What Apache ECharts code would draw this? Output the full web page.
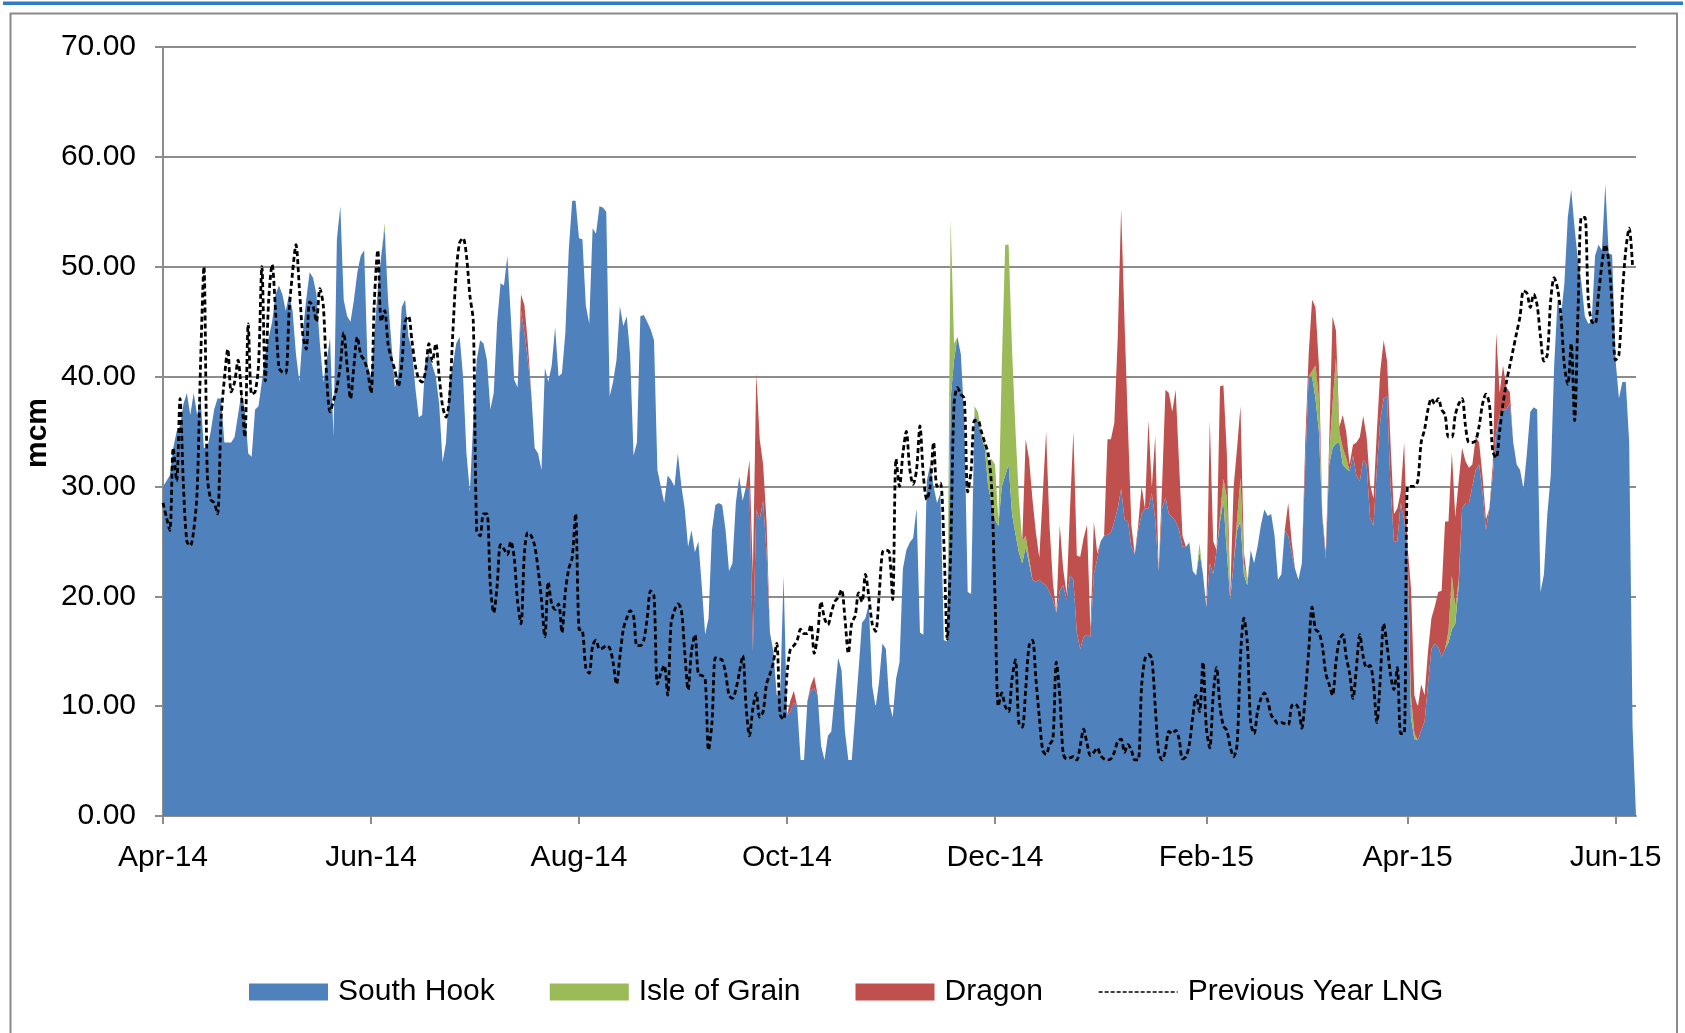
<!DOCTYPE html>
<html>
<head>
<meta charset="utf-8">
<title>LNG send-out by terminal</title>
<script src="https://cdn.jsdelivr.net/npm/echarts@6.0.0/dist/echarts.min.js"></script>
<style>
  html, body { margin: 0; padding: 0; background: #fff; }
  #chart { width: 1685px; height: 1033px; }
</style>
</head>
<body>
<div id="chart"></div>
<script>
  // daily values from 1 Apr 2014 (index 0) to 7 Jun 2015 (index 432), mcm
  const startDay = [2014, 3, 1]
  const tickLabels = ['Apr-14', 'Jun-14', 'Aug-14', 'Oct-14', 'Dec-14', 'Feb-15', 'Apr-15', 'Jun-15']
  const monthNames = ['Jan', 'Feb', 'Mar', 'Apr', 'May', 'Jun', 'Jul', 'Aug', 'Sep', 'Oct', 'Nov', 'Dec']

  const southHook = [
    30, 30.5, 31, 33.5, 35, 35.5, 37.5, 38.5, 36.5, 38.5,
    36.5, 38, 33.5, 33.5, 35, 37, 38, 38, 34, 34,
    34, 34.5, 36.5, 38.5, 37, 33, 32.7, 37, 37.3, 39.5,
    42, 43.5, 45, 47.5, 48.3, 47.5, 46, 47.5, 46, 42,
    39.5, 44, 47, 49.5, 49, 47.5, 43, 39.5, 41.5, 43.5,
    34.5, 52.5, 55.5, 47, 45.5, 45, 47, 49.5, 51, 51.5,
    41, 40, 44, 48, 51, 53.5, 47, 43, 39, 40,
    46.3, 47, 43.6, 42.5, 39, 36.3, 36.5, 41.7, 42, 41,
    40, 37.5, 32.2, 34, 39.5, 41, 43, 43.6, 40, 33,
    29.5, 36, 41.5, 43.3, 43, 41.5, 37, 38.5, 45, 48.5,
    48.3, 51, 45.5, 39.7, 39, 46, 44, 41.5, 38.5, 33.5,
    33, 31.5, 40.8, 39.5, 41, 44.5, 40, 40.3, 44, 51.5,
    56, 56, 52.6, 52.5, 46.5, 44.8, 53.5, 53, 55.5, 55.4,
    55, 38.2, 39.5, 41.5, 46.4, 44.6, 45.5, 42, 32.8, 34,
    45.5, 45.6, 45, 44.3, 43.3, 31.5, 30, 28.5, 31, 30.6,
    30, 33, 30.1, 28, 24.5, 26, 24, 25, 21, 16.5,
    18, 26, 28.3, 28.5, 28.3, 26, 22.3, 23, 28.5, 30.9,
    28.7, 30, 29.8, 15, 27.9, 27, 28.7, 24, 16.7, 15,
    11, 11, 21.9, 9.2, 9.5, 10.3, 10, 5.1, 5.1, 10.5,
    11.4, 11.6, 11, 6.4, 5.1, 7.3, 7.7, 11, 14.4, 13.3,
    7.7, 5.1, 5.1, 9.2, 13.3, 17.6, 18, 19.3, 11.8, 9.9,
    12.2, 15.7, 15.2, 10.3, 9, 12.5, 14, 22.5, 24.2, 24.9,
    25.3, 28, 16.7, 16.5, 30.5, 32, 30, 28.5, 29.4, 16,
    15.9, 38, 41.5, 43.6, 42, 36, 20.4, 20.2, 36.5, 36,
    34.5, 33.5, 30, 28.5, 27, 26.4, 30, 31, 32, 27.5,
    25.7, 24, 23, 24.5, 23, 21.5, 21.3, 21.5, 21.2, 21,
    20.4, 19.7, 18.5, 20.5, 21, 19.7, 21.9, 21.5, 16.7, 15.2,
    16.3, 16.5, 16.3, 22, 23.4, 25, 25.5, 25.6, 25.8, 26.8,
    28, 29.8, 27, 26.8, 24.5, 23.8, 26, 27.5, 28, 28,
    29.4, 27, 22.3, 28, 29, 27.5, 27.2, 26.8, 26, 24.5,
    24.5, 24.9, 22.3, 21.9, 24, 22, 19, 23, 22, 24.2,
    26.8, 28.7, 24, 19.7, 23, 26, 26.8, 22, 21, 24.2,
    23, 24.5, 26.5, 27.9, 27.3, 27.5, 25.5, 21.5, 22, 26,
    25.5, 24, 22.5, 21.5, 23, 32, 40, 40, 38, 35,
    27.2, 23.4, 32, 33.5, 33.9, 34, 32, 31.6, 31.4, 32.8,
    31, 30.5, 32.4, 32, 27.2, 26.4, 31.6, 36, 38, 38.2,
    30, 25, 25, 28.5, 27, 24.5, 9, 7, 6.9, 7.8,
    8.6, 12, 15.2, 15.7, 15.4, 14.5, 15.2, 15.8, 17, 17.5,
    21, 28, 28.5, 28.5, 30, 31.5, 32, 29.4, 26, 28,
    31, 35, 36.5, 37, 37, 37.6, 34, 32, 31.5, 29.8,
    33, 36.8, 37.2, 37, 20.4, 22, 27.5, 31, 41, 47,
    45.5, 48.5, 54.5, 57, 53.5, 50.5, 48.5, 45.5, 44.8, 45,
    51, 52, 51.5, 57.5, 51.2, 51.1, 41.5, 38, 39.5, 39.5,
    34, 8, 0
  ]

  const isleOfGrain = [
    0, 0, 0, 0, 0, 0, 0, 0, 0, 0,
    0, 0, 0, 0, 0, 0, 0, 0, 0, 0,
    0, 0, 0, 0, 0, 0, 0, 0, 0, 0,
    0, 0, 0, 0, 0, 0, 0, 0, 0, 0,
    0, 0, 0, 0, 0, 0, 0, 0, 0, 0,
    0, 0, 0, 0, 0, 0, 0, 0, 0, 0,
    0, 0, 0, 0, 0, 0.5, 0, 0, 0, 0,
    0, 0, 0, 0, 0, 0, 0, 0, 0, 0,
    0, 0, 0, 0, 0, 0, 0, 0, 0, 0,
    0, 0, 0, 0, 0, 0, 0, 0, 0, 0,
    0, 0, 0, 0, 0, 0, 0, 0, 0, 0,
    0, 0, 0, 0, 0, 0, 0, 0, 0, 0,
    0, 0, 0, 0, 0, 0, 0, 0, 0, 0,
    0, 0, 0, 0, 0, 0, 0, 0, 0, 0,
    0, 0, 0, 0, 0, 0, 0, 0, 0, 0,
    0, 0, 0, 0, 0, 0, 0, 0, 0, 0,
    0, 0, 0, 0, 0, 0, 0, 0, 0, 0,
    0, 0, 0, 0, 0, 0, 0, 0, 0, 0,
    0, 0, 0, 0, 0, 0, 0, 0, 0, 0,
    0, 0, 0, 0, 0, 0, 0, 0, 0, 0,
    0, 0, 0, 0, 0, 0, 0, 0, 0, 0,
    0, 0, 0, 0, 0, 0, 0, 0, 0, 0,
    0, 0, 0, 0, 0, 0, 0, 0, 0, 0,
    0, 16.3, 1.5, 0, 0, 0, 0, 0, 0.8, 0.8,
    0.5, 0.5, 2.4, 4, 5, 0.5, 11, 21, 20, 15,
    9.5, 5, 2, 1, 0.5, 0, 0, 0, 0, 0,
    0, 0, 0, 0, 0, 0, 0, 0, 0, 0,
    0, 0, 0, 0, 0, 0, 0, 0, 0, 0,
    0, 0, 0, 0, 0, 0, 0, 0, 0, 0,
    0, 0, 0, 0, 0, 0, 0, 0, 0, 0,
    0, 0, 0, 0, 0.8, 0, 0, 0, 0, 0,
    0.5, 2, 5, 0.2, 0, 1, 4, 1, 0.5, 0,
    0, 0, 0, 0, 0, 0, 0, 0, 0, 0,
    0, 0, 0, 0, 0, 0, 0, 0.5, 3, 3,
    0, 0, 0.8, 4, 7.8, 1, 1.5, 1, 0, 0,
    0, 0, 0, 0, 0, 0, 0, 0, 0, 0,
    0, 0, 0, 0, 0, 0, 2, 0.5, 0, 0,
    0, 0, 0, 0, 0, 0, 0, 1, 4.9, 1.5,
    0.5, 0, 0, 0, 0, 0, 0, 0, 0, 0,
    0, 0, 0, 0, 0, 0, 0, 0, 0, 0,
    0, 0, 0, 0, 0, 0, 0, 0, 0, 0,
    0, 0, 0, 0, 0, 0, 0, 0, 0, 0,
    0, 0, 0, 0, 0, 0, 0, 0, 0, 0,
    0, 0, 0
  ]

  const dragon = [
    0, 0, 0, 0, 0, 0, 0, 0, 0, 0,
    0, 0, 0, 0, 0, 0, 0, 0, 0, 0,
    0, 0, 0, 0, 0, 0, 0, 0, 0, 0,
    0, 0, 0, 0, 0, 0, 0, 0, 0, 0,
    0, 0, 0, 0, 0, 0, 0, 0, 0, 0,
    0, 0, 0, 0, 0, 0, 0, 0, 0, 0,
    0, 0, 0, 0, 0, 0, 0, 0, 0, 0,
    0, 0, 0, 0, 0, 0, 0, 0, 0, 0,
    0, 0, 0, 0, 0, 0, 0, 0, 0, 0,
    0, 0, 0, 0, 0, 0, 0, 0, 0, 0,
    0, 0, 0, 0, 0, 1.5, 2.5, 1.5, 0, 0,
    0, 0, 0, 0, 0, 0, 0, 0, 0, 0,
    0, 0, 0, 0, 0, 0, 0, 0, 0, 0,
    0, 0, 0, 0, 0, 0, 0, 0, 0, 0,
    0, 0, 0, 0, 0, 0, 0, 0, 0, 0,
    0, 0, 0, 0, 0, 0, 0, 0, 0, 0,
    0, 0, 0, 0, 0, 0, 0, 0, 0, 0,
    0, 0, 2.6, 7, 12.4, 7.3, 3.3, 2.8, 0, 0,
    0, 0, 0, 0, 1, 1.1, 0, 0, 0, 0,
    0.5, 1.1, 0, 0, 0, 0, 0, 0, 0, 0,
    0, 0, 0, 0, 0, 0, 0, 0, 0, 0,
    0, 0, 0, 0, 0, 0, 0, 0, 0, 0,
    0, 0, 0, 0, 0, 0, 0, 0, 0, 0,
    0, 0, 0, 0, 0, 0, 0, 0, 0, 0,
    0, 0, 0, 0, 0, 0, 0, 0, 0, 0,
    0, 0, 0, 8.8, 9, 7.3, 4.5, 2, 8, 14,
    6, 1.5, 0, 6, 1.5, 0.5, 6, 13.5, 7, 8.4,
    9, 10, 0.5, 4.8, 0.5, 0, 0, 8.7, 8.5, 9,
    15.5, 25.5, 18, 8.6, 2, 0, 0.5, 2.5, 0, 8,
    0.5, 7.6, 0, 2, 9.8, 11, 9.6, 12, 6, 1,
    0, 0, 0, 0, 0, 0, 0, 13, 3, 0,
    11.8, 8.5, 4, 0.3, 7, 6.5, 6.5, 1, 0, 0,
    0, 0, 0, 0, 0, 0, 0, 0, 0, 0,
    3, 1, 0, 0, 0, 2, 2, 6.5, 5.3, 3,
    0.3, 0.5, 1, 8, 2.5, 0.4, 3, 2.4, 0.6, 1,
    3, 4, 4, 2.5, 3, 2.5, 3.4, 4.5, 5.3, 3.2,
    4, 2.5, 3, 1, 7, 0, 9.8, 3.5, 3, 4.2,
    2.4, 3, 2.8, 3.4, 5, 6, 11.6, 10, 11.2, 8.2,
    9, 5.5, 3.8, 3.2, 2, 3, 2, 1.5, 1, 0,
    1, 9, 2, 4, 2, 1, 0, 0, 0, 0,
    0, 0, 0, 0, 0, 0, 0, 0, 0, 0,
    0, 0, 0, 0, 0, 0, 0, 0, 0, 0,
    0, 0, 0, 0, 0, 0, 0, 0, 0, 0,
    0, 0, 0
  ]

  const previousYear = [
    28.5, 27.2, 26, 33.5, 30.5, 38, 30, 25, 24.6, 26,
    29.5, 41, 50, 31, 28.8, 28.5, 27.5, 36, 39.8, 42.5,
    38.6, 39.5, 41.5, 38.4, 34.5, 44.8, 38.4, 38.6, 41, 50,
    39.6, 47, 50.2, 46, 40.8, 40.4, 40.3, 46, 49.5, 52,
    48, 43.8, 42.5, 46.8, 46.4, 45, 48, 46.5, 40, 36.8,
    37.8, 39, 41, 44, 41, 38, 41, 43.6, 42, 41.5,
    40.5, 38.5, 47, 51.5, 45, 46, 43, 41.6, 40.6, 39.1,
    41, 45, 45.5, 43.3, 41, 39.8, 39.5, 40.5, 43, 41.4,
    43, 40, 37.3, 36.3, 38, 44, 49.5, 52.2, 52.6, 51,
    47.4, 45, 26, 25.5, 27.5, 27.5, 21, 18.5, 21, 24.7,
    24.3, 23.8, 25, 23.5, 19.5, 17.5, 24, 25.8, 25.5, 24.6,
    22.5, 19.7, 16.3, 21.3, 19.3, 18.8, 19.3, 16.7, 20.4, 22.5,
    23.5, 27.5, 17, 16.9, 13.5, 13, 15.5, 16, 15.2, 15.3,
    15.5, 15.3, 14, 12, 14.5, 17, 18, 18.7, 18.2, 15.5,
    15.5, 16, 18, 20.5, 20, 12, 13, 13.7, 11, 17.5,
    18.7, 19.3, 18.8, 15, 11.5, 15, 16.5, 12.9, 12.8, 12.5,
    6, 8.5, 14.4, 14.3, 14.2, 13, 11, 10.7, 11.5, 13,
    14.6, 10, 7.3, 9.8, 11.2, 9, 9.5, 12, 12.9, 14,
    15.7, 9.2, 8.8, 12.9, 15.2, 15.5, 16, 17, 16.6, 16.6,
    17.4, 14.8, 16.5, 19.5, 18, 17.4, 18.5, 19.5, 19.9, 20.6,
    18, 14.8, 17.6, 18.2, 20.3, 19.5, 22, 20, 17.5, 16.8,
    20, 24, 24.2, 24, 19.7, 32.5, 30, 33, 35, 31.6,
    30.2, 31.5, 35.5, 31, 28.8, 30, 34, 30, 30.3, 25,
    16.1, 24, 37.5, 39, 38.4, 38, 29.5, 31.5, 36, 36,
    35, 34, 33, 30, 20, 10, 11.2, 10, 9.5, 12.5,
    14.2, 8.5, 8.1, 11.5, 15.5, 16, 12.5, 9, 6, 5.6,
    6.5, 7, 14, 11, 5.7, 5.2, 5.3, 5.4, 5.1, 6.4,
    7.9, 6.6, 5.5, 5.8, 6.2, 5.5, 5.2, 5.1, 5.2, 5.8,
    6.8, 7, 5.8, 6.5, 6, 5.1, 5.1, 11.8, 14.3, 14.7,
    14.3, 10, 5.8, 5.1, 6, 7.7, 7.5, 7.8, 7, 5.2,
    5.4, 6.5, 9, 11, 9.5, 14, 8, 6.2, 11, 13.5,
    10, 8.2, 7.8, 6.3, 5.4, 6.5, 14.5, 18, 15.8, 8.5,
    7.5, 9.5, 10.7, 11.2, 10.5, 9.2, 8.8, 8.4, 8.5, 8.4,
    8.3, 10, 10.2, 9.8, 8, 11, 15, 19, 17, 16.7,
    15.5, 13, 12, 11, 14, 16, 16.5, 14.5, 13, 10.7,
    13.5, 16.5, 14.5, 13.5, 13.7, 12, 8.5, 12.5, 17.5, 15.5,
    12.9, 11.5, 13.5, 7.5, 7.5, 30, 30, 30, 30.5, 34,
    35.2, 37, 38, 37.5, 38, 37, 36.5, 34.5, 34.5, 36.5,
    37.5, 38, 35.5, 34, 34, 34.2, 35.5, 37.5, 38.4, 37.5,
    33.2, 32.6, 35, 37.5, 39.5, 41, 42.5, 44, 45.5, 47.8,
    47.6, 46.3, 47.5, 46.5, 43.6, 41.4, 42, 47, 49, 48,
    45.5, 41, 39.3, 43, 36, 46, 54.5, 54.5, 47, 45,
    44.8, 47.5, 50.2, 52, 50.5, 46.5, 41.5, 42, 47.5, 51.5,
    53.5, 50, null
  ]

  // one category per day
  const days = []
  for (let i = 0; i < southHook.length; i++) {
    const d = new Date(Date.UTC(startDay[0], startDay[1], startDay[2] + i))
    const mm = String(d.getUTCMonth() + 1).padStart(2, '0')
    const dd = String(d.getUTCDate()).padStart(2, '0')
    days.push(d.getUTCFullYear() + '-' + mm + '-' + dd)
  }

  function monthLabel(val) {
    const p = val.split('-')
    return monthNames[+p[1] - 1] + '-' + p[0].slice(2)
  }

  function isTick(index, val) {
    return val.slice(8) === '01' && tickLabels.indexOf(monthLabel(val)) >= 0
  }

  const font = '"Liberation Sans", Arial, sans-serif'
  const gridGrey = '#8c8c8c'

  let myChart = echarts.init(document.getElementById('chart'))
  let option = {
    animation: false,
    textStyle: { fontFamily: font },
    grid: {
      left: 163,
      right: 49,
      top: 47,
      bottom: 217
    },
    legend: {
      left: 244,
      top: 972,
      itemWidth: 79,
      itemHeight: 17,
      itemGap: 55,
      textStyle: {
        fontSize: 30,
        color: '#000',
        fontFamily: font,
        padding: [0, 0, 0, 5]
      },
      data: [
        { name: 'South Hook', icon: 'rect' },
        { name: 'Isle of Grain', icon: 'rect' },
        { name: 'Dragon', icon: 'rect' },
        {
          name: 'Previous Year LNG',
          itemStyle: { opacity: 0 },
          lineStyle: { width: 1.5, type: [4, 2] }
        }
      ]
    },
    xAxis: {
      type: 'category',
      data: days,
      boundaryGap: false,
      axisLine: { lineStyle: { color: gridGrey, width: 2 } },
      axisTick: {
        interval: isTick,
        length: 8,
        lineStyle: { color: gridGrey, width: 2 }
      },
      axisLabel: {
        interval: isTick,
        formatter: monthLabel,
        fontSize: 30,
        color: '#000',
        margin: 27,
        fontFamily: font
      },
      splitLine: { show: false }
    },
    yAxis: {
      type: 'value',
      min: 0,
      max: 70,
      interval: 10,
      axisLine: { show: true, lineStyle: { color: gridGrey, width: 2 } },
      axisTick: { show: true, length: 8, lineStyle: { color: gridGrey, width: 2 } },
      axisLabel: {
        fontSize: 30,
        color: '#000',
        margin: 27,
        fontFamily: font,
        formatter: function (v) {
          return v.toFixed(2)
        }
      },
      splitLine: { lineStyle: { color: gridGrey, width: 2 } }
    },
    graphic: [
      {
        type: 'rect',
        shape: { x: 3, y: 1.5, width: 1680, height: 3.5 },
        style: { fill: '#2f7bc5' },
        silent: true
      },
      {
        type: 'rect',
        shape: { x: 10.5, y: 13.5, width: 1666.5, height: 1040 },
        style: { fill: 'none', stroke: '#8a8a8a', lineWidth: 2 },
        silent: true
      },
      {
        type: 'text',
        x: 38,
        y: 433,
        rotation: Math.PI / 2,
        style: {
          text: 'mcm',
          font: 'bold 30px "Liberation Sans", Arial, sans-serif',
          fill: '#000',
          textAlign: 'center',
          textVerticalAlign: 'middle'
        },
        silent: true
      }
    ],
    series: [
      {
        name: 'South Hook',
        type: 'line',
        stack: 'lng',
        symbol: 'none',
        data: southHook,
        color: '#4F81BD',
        lineStyle: { width: 0 },
        areaStyle: { color: '#4F81BD', opacity: 1 }
      },
      {
        name: 'Isle of Grain',
        type: 'line',
        stack: 'lng',
        symbol: 'none',
        data: isleOfGrain,
        color: '#9BBB59',
        lineStyle: { width: 0 },
        areaStyle: { color: '#9BBB59', opacity: 1 }
      },
      {
        name: 'Dragon',
        type: 'line',
        stack: 'lng',
        symbol: 'none',
        data: dragon,
        color: '#C0504D',
        lineStyle: { width: 0 },
        areaStyle: { color: '#C0504D', opacity: 1 }
      },
      {
        name: 'Previous Year LNG',
        type: 'line',
        symbol: 'none',
        smooth: 0.3,
        data: previousYear,
        color: '#000',
        z: 5,
        lineStyle: { color: '#000', width: 2.8, type: [5, 3] }
      }
    ]
  }
  myChart.setOption(option)
</script>
</body>
</html>
